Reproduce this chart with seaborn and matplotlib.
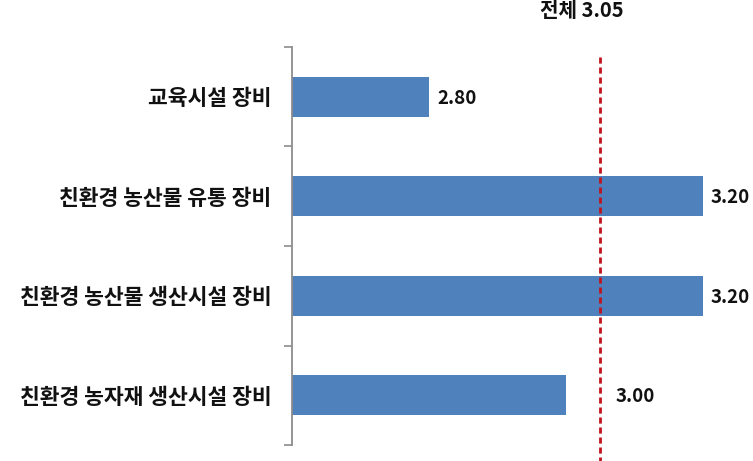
import matplotlib
matplotlib.use("Agg")
import matplotlib.pyplot as plt
import seaborn as sns
import pandas as pd

categories = ["교육시설 장비", "친환경 농산물 유통 장비", "친환경 농산물 생산시설 장비", "친환경 농자재 생산시설 장비"]
values = [2.80, 3.20, 3.20, 3.00]
overall = 3.05
overall_label = "전체 3.05"

sns.set_theme(style="white")
plt.rcParams['font.family'] = ['Noto Sans CJK KR', 'DejaVu Sans']

df = pd.DataFrame({"cat": categories, "val": values})

fig = plt.figure(figsize=(7.53, 4.61), dpi=100)
ax = fig.add_axes([292/753, 16/461, 445/753, 398/461])

sns.barplot(data=df, x="val", y="cat", orient="h", width=0.4, color="#4F81BD",
            saturation=1, ax=ax, edgecolor="none")

ax.set_xlim(2.6, 3.25)
ax.set_ylim(3.5, -0.5)
ax.set_xlabel("")
ax.set_ylabel("")
ax.set_xticks([])

for s in ["top", "right", "bottom"]:
    ax.spines[s].set_visible(False)
ax.spines["left"].set_color("#8c8c8c")
ax.spines["left"].set_linewidth(1.3)

ax.set_yticks(range(len(categories)))
ax.set_yticklabels(categories, fontsize=15.5, fontweight="bold", color="#111111")
ax.tick_params(axis="y", which="major", length=0, pad=15)
ax.set_yticks([i - 0.5 for i in range(len(categories) + 1)], minor=True)
ax.tick_params(axis="y", which="minor", length=6, width=1.2, color="#8c8c8c", left=True)

# overall line
ax.plot([overall, overall], [-0.4, 3.66], color="#C0141E", linestyle=(0, (2.2, 1.4)),
        linewidth=2, clip_on=False, zorder=3)
ax.annotate(overall_label, xy=(overall, -0.5), xytext=(-13, 26), textcoords="offset points",
            ha="center", va="center", fontsize=14.5, fontweight="bold", color="#111111",
            annotation_clip=False)

# value labels
for i, v in enumerate(values):
    x = v + 0.012
    if abs(v - overall) < 0.06:
        x = max(v, overall) + 0.022
    ax.annotate(f"{v:.2f}", xy=(x, i), xytext=(0, -1), textcoords="offset points",
                ha="left", va="center", fontsize=13.5, fontweight="bold", color="#111111",
                annotation_clip=False)

fig.savefig("out.png", dpi=100)
